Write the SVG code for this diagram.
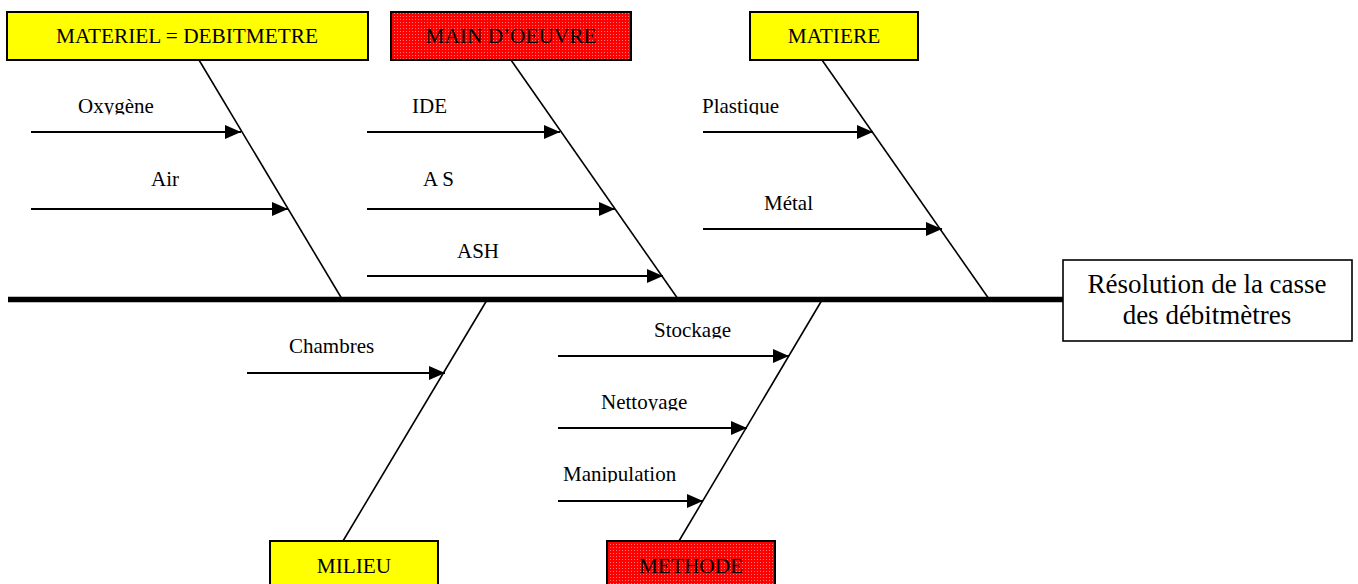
<svg xmlns="http://www.w3.org/2000/svg" width="1358" height="584" viewBox="0 0 1358 584">
  <style>
    .lbl { font-family: "Liberation Serif", "Times New Roman", serif; font-size: 21px; fill: #000; }
    .cat { font-family: "Liberation Serif", "Times New Roman", serif; font-size: 21.3px; fill: #000; text-anchor: middle; }
    .res { font-family: "Liberation Serif", "Times New Roman", serif; font-size: 27px; fill: #000; text-anchor: middle; }
    .box { stroke: #000; stroke-width: 2; }
    .yel { fill: #ffff00; }
    .red { fill: url(#redDots); }
    .bone { stroke: #000; stroke-width: 1.6; fill: none; }
    .cause { stroke: #000; stroke-width: 1.8; fill: none; marker-end: url(#tip); }
    .spine { stroke: #000; stroke-width: 5.5; fill: none; }
  </style>
  <defs>
    <pattern id="redDots" width="3" height="3" patternUnits="userSpaceOnUse">
      <rect width="3" height="3" fill="#ff0000"/>
      <rect x="1" y="1" width="1" height="1" fill="#ff7a7a"/>
    </pattern>
    <marker id="tip" viewBox="0 0 16 14" refX="16" refY="7" markerWidth="16" markerHeight="14" markerUnits="userSpaceOnUse" orient="auto">
      <path d="M0,0 L16,7 L0,14 Z" fill="#000"/>
    </marker>
    <!-- trim the descenders of labels that sit right on their arrow row -->
    <clipPath id="cutOxy"><rect x="60" y="90" width="120" height="24.5"/></clipPath>
    <clipPath id="cutPla"><rect x="690" y="90" width="110" height="24.5"/></clipPath>
    <clipPath id="cutSto"><rect x="640" y="314" width="110" height="24.5"/></clipPath>
    <clipPath id="cutNet"><rect x="590" y="386" width="110" height="24.5"/></clipPath>
    <clipPath id="cutMan"><rect x="550" y="458" width="140" height="24.5"/></clipPath>
  </defs>
  <rect width="1358" height="584" fill="#fff"/>

  <g id="connectors">
    <line class="spine" x1="8" y1="299.5" x2="1064" y2="299.5"/>
    <!-- upper bones -->
    <line class="bone" x1="199" y1="60" x2="342" y2="299"/>
    <line class="bone" x1="511" y1="60" x2="678" y2="299"/>
    <line class="bone" x1="822" y1="60" x2="989" y2="299"/>
    <!-- lower bones -->
    <line class="bone" x1="487" y1="300" x2="343" y2="541"/>
    <line class="bone" x1="822" y1="300" x2="679" y2="541"/>
    <!-- cause arrows -->
    <line class="cause" x1="31" y1="132" x2="241" y2="132"/>
    <line class="cause" x1="31" y1="209" x2="288" y2="209"/>
    <line class="cause" x1="367" y1="132" x2="560" y2="132"/>
    <line class="cause" x1="367" y1="209" x2="615" y2="209"/>
    <line class="cause" x1="367" y1="276" x2="663" y2="276"/>
    <line class="cause" x1="703" y1="132" x2="873" y2="132"/>
    <line class="cause" x1="703" y1="229" x2="942" y2="229"/>
    <line class="cause" x1="247" y1="373" x2="445" y2="373"/>
    <line class="cause" x1="558" y1="356" x2="789" y2="356"/>
    <line class="cause" x1="558" y1="428" x2="747" y2="428"/>
    <line class="cause" x1="558" y1="501" x2="703" y2="501"/>
  </g>

  <g id="materiel">
    <rect class="box yel" x="7" y="12" width="361" height="48"/>
    <text class="cat" x="187" y="43">MATERIEL = DEBITMETRE</text>
  </g>
  <g id="main-oeuvre">
    <rect class="box red" x="391" y="12" width="240" height="48"/>
    <text class="cat" x="511" y="43">MAIN D’OEUVRE</text>
  </g>
  <g id="matiere">
    <rect class="box yel" x="750" y="12" width="168" height="48"/>
    <text class="cat" x="834" y="43">MATIERE</text>
  </g>
  <g id="milieu">
    <rect class="box yel" x="270" y="541" width="168" height="50"/>
    <text class="cat" x="354" y="573">MILIEU</text>
  </g>
  <g id="methode">
    <rect class="box red" x="607" y="541" width="168" height="50"/>
    <text class="cat" x="691" y="573">METHODE</text>
  </g>
  <g id="resultat">
    <rect x="1063" y="260" width="289" height="81" fill="#fff" stroke="#000" stroke-width="1.6"/>
    <text class="res" x="1207" y="293">Résolution de la casse</text>
    <text class="res" x="1207" y="324">des débitmètres</text>
  </g>

  <g id="labels">
    <text class="lbl" x="78" y="113" clip-path="url(#cutOxy)">Oxygène</text>
    <text class="lbl" x="151" y="186">Air</text>
    <text class="lbl" x="412" y="113">IDE</text>
    <text class="lbl" x="423" y="186">A S</text>
    <text class="lbl" x="457" y="258">ASH</text>
    <text class="lbl" x="702" y="113" clip-path="url(#cutPla)">Plastique</text>
    <text class="lbl" x="764" y="210">Métal</text>
    <text class="lbl" x="289" y="353">Chambres</text>
    <text class="lbl" x="654" y="337" clip-path="url(#cutSto)">Stockage</text>
    <text class="lbl" x="601" y="409" clip-path="url(#cutNet)">Nettoyage</text>
    <text class="lbl" x="563" y="481" clip-path="url(#cutMan)">Manipulation</text>
  </g>
</svg>
